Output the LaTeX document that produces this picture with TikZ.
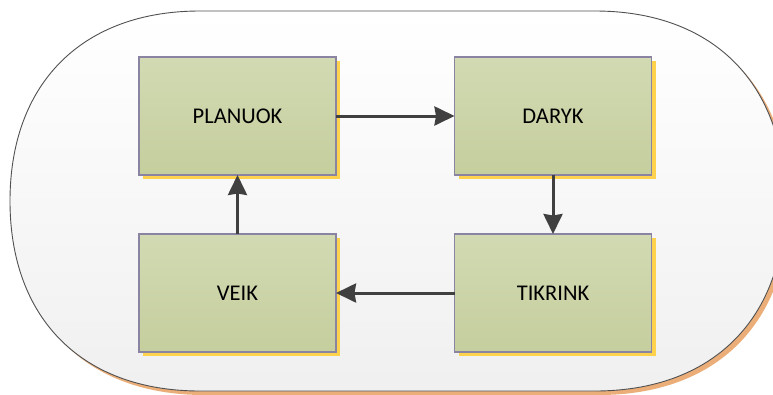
\documentclass[tikz,border=0pt]{standalone}
\usepackage{fontspec}
\setmainfont{Carlito}
\usetikzlibrary{arrows.meta,shadows}
\definecolor{boxtop}{HTML}{D2DAB3}
\definecolor{boxbot}{HTML}{C5CE9D}
\definecolor{boxline}{HTML}{8A84A2}
\definecolor{yshadow}{HTML}{FFD24D}
\definecolor{oshadow}{HTML}{EBAE78}
\definecolor{arrowc}{HTML}{404040}
\definecolor{outerline}{HTML}{505050}
\tikzset{
  stepbox/.style={draw=boxline, line width=1.3pt, top color=boxtop, bottom color=boxbot,
    minimum width=197pt, minimum height=118pt, inner sep=0pt, outer sep=0pt,
    font=\fontsize{22.5}{26}\selectfont,
    general shadow={shadow xshift=4pt, shadow yshift=-4pt, fill=yshadow, draw=none}},
  flow/.style={draw=arrowc, line width=3pt, -{Stealth[inset=1.5pt,length=20pt,width=19pt]}}
}
\begin{document}
\begin{tikzpicture}[x=1pt,y=-1pt]
\useasboundingbox (0,0) rectangle (773,394);
\def\k{0.62}
% outer shadow
\fill[oshadow] (204,15) -- (599,15)
  .. controls ({599+\k*190},15) and (789,{205-\k*190}) .. (789,205)
  .. controls (789,{205+\k*190}) and ({599+\k*190},395) .. (599,395)
  -- (204,395)
  .. controls ({204-\k*190},395) and (14,{205+\k*190}) .. (14,205)
  .. controls (14,{205-\k*190}) and ({204-\k*190},15) .. (204,15) -- cycle;
% outer shape
\shade[top color=white, bottom color=black!6, draw=outerline, line width=0.9pt]
  (200,11) -- (595,11)
  .. controls ({595+\k*190},11) and (785,{201-\k*190}) .. (785,201)
  .. controls (785,{201+\k*190}) and ({595+\k*190},391) .. (595,391)
  -- (200,391)
  .. controls ({200-\k*190},391) and (10,{201+\k*190}) .. (10,201)
  .. controls (10,{201-\k*190}) and ({200-\k*190},11) .. (200,11) -- cycle;
\node[stepbox] (plan) at (237.5,116) {PLANUOK};
\node[stepbox] (dary) at (553,116) {DARYK};
\node[stepbox] (veik) at (237.5,293) {VEIK};
\node[stepbox] (tikr) at (553,293) {TIKRINK};
\draw[flow] (plan.east) -- (dary.west);
\draw[flow] (dary.south) -- (tikr.north);
\draw[flow] (tikr.west) -- (veik.east);
\draw[flow] (veik.north) -- (plan.south);
\end{tikzpicture}
\end{document}
